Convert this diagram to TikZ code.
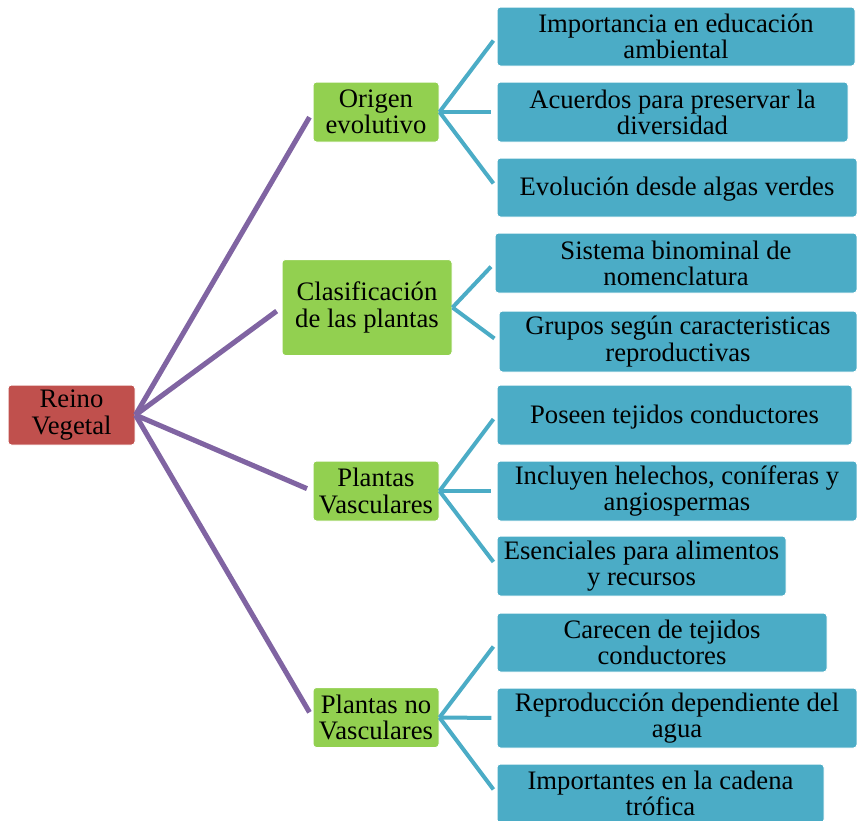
\documentclass[tikz,border=0pt]{standalone}
\usepackage{fontspec}
\setmainfont{Liberation Serif}
\definecolor{rootred}{HTML}{C0504D}
\definecolor{branchgreen}{HTML}{92D050}
\definecolor{leafblue}{HTML}{4BACC6}
\definecolor{trunkpurple}{HTML}{8064A2}
\tikzset{
  box/.style={draw=white, line width=0.75pt, rounded corners=2.5pt, inner sep=0pt,
    align=center, font=\fontsize{20}{19.6}\selectfont, text=black,
    % a tall strut on the first line sets the text a little lower in its box
    execute at begin node={\rule{0pt}{17pt}}},
  % sizes are given in pixels of a 96 dpi canvas
  sz/.style 2 args={minimum width=#1*0.75pt, minimum height=#2*0.75pt},
  rootbox/.style={box, fill=rootred},
  branchbox/.style={box, fill=branchgreen},
  leafbox/.style={box, fill=leafblue},
  trunk/.style={draw=trunkpurple, line width=3.8pt, shorten >=4.5pt},
  twig/.style={draw=leafblue, line width=3pt, shorten >=3.8pt},
}
\begin{document}
\begin{tikzpicture}[x=0.75pt, y=-0.75pt]
\useasboundingbox (0,0) rectangle (857,821);
\clip (0,0) rectangle (857,821);

% root
\node[rootbox, sz={127}{60}] (root) at (71.5,415) {Reino\\Vegetal};

% branches
\node[branchbox, sz={126}{60}] (b1) at (376,112) {Origen\\evolutivo};
\node[branchbox, sz={170}{96}] (b2) at (367,307.5) {Clasificación\\de las plantas};
\node[branchbox, sz={126}{60}] (b3) at (376,491) {Plantas\\Vasculares};
\node[branchbox, sz={126}{60}] (b4) at (376,717.5) {Plantas no\\Vasculares};

% leaves of the first branch
\node[leafbox, sz={358}{59}] (l11) at (676,36.5) {Importancia en educación\\ambiental};
\node[leafbox, sz={351}{60}] (l12) at (672.5,112) {Acuerdos para preservar la\\diversidad};
\node[leafbox, sz={360}{59}] (l13) at (677,187.5) {Evolución desde algas verdes};
% leaves of the second branch
\node[leafbox, sz={362}{60}] (l21) at (676,263) {Sistema binominal de\\nomenclatura};
\node[leafbox, sz={358}{61}] (l22) at (678,341.5) {Grupos según caracteristicas\\reproductivas};
% leaves of the third branch
\node[leafbox, sz={355}{60}] (l31) at (674.5,415) {Poseen tejidos conductores};
\node[leafbox, sz={360}{60}] (l32) at (677,491) {Incluyen helechos, coníferas y\\angiospermas};
\node[leafbox, sz={289}{60}] (l33) at (641.5,566) {Esenciales para alimentos\\y recursos};
% leaves of the fourth branch
\node[leafbox, sz={330}{59}] (l41) at (662,642.5) {Carecen de tejidos\\conductores};
\node[leafbox, sz={360}{60}] (l42) at (677,718) {Reproducción dependiente del\\agua};
\node[leafbox, sz={327}{59}] (l43) at (660.5,793.5) {Importantes en la cadena\\trófica};

% root to branches
\foreach \b in {b1,b2,b3,b4}
  \draw[trunk] (root.east) -- (\b.west);

% branches to leaves
\foreach \b/\l in {b1/l11,b1/l12,b1/l13,b2/l21,b2/l22,b3/l31,b3/l32,b3/l33,b4/l41,b4/l42,b4/l43}
  \draw[twig] (\b.east) -- (\l.west);
\end{tikzpicture}
\end{document}
